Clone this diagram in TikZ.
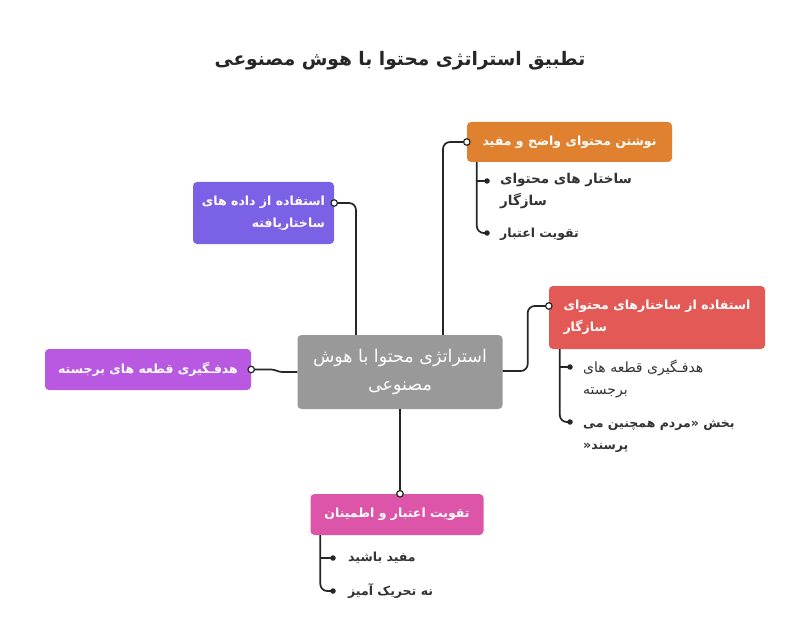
\documentclass[tikz,border=0pt]{standalone}
\usepackage{fontspec}
\TeXXeTstate=1
\newfontfamily\fa[Script=Arabic]{DejaVu Sans}
\newcommand{\rl}[1]{\beginR #1\endR}
\definecolor{corange}{HTML}{E0812F}
\definecolor{cpurple}{HTML}{7B61E6}
\definecolor{cgray}{HTML}{999999}
\definecolor{cred}{HTML}{E25955}
\definecolor{cmag}{HTML}{B959E2}
\definecolor{cpink}{HTML}{DC55A8}
\definecolor{ctext}{HTML}{333333}
\tikzset{
  x=1pt, y=-1pt,
  box/.style={rectangle, rounded corners=4pt, inner sep=0pt, text=white,
    font=\fa\bfseries\fontsize{12.5}{22}\selectfont},
  child/.style={inner sep=0pt, text=ctext, font=\fa\fontsize{14}{22}\selectfont},
  childb/.style={child, font=\fa\bfseries\fontsize{12.5}{22}\selectfont},
  link/.style={draw=black!85, line width=1.7pt, rounded corners=7pt},
  opendot/.style={circle, draw=black!85, fill=white, line width=1.2pt, inner sep=0pt, minimum size=6.5pt},
  bullet/.style={circle, fill=black!85, inner sep=0pt, minimum size=5.5pt},
}
\begin{document}
\begin{tikzpicture}
\useasboundingbox (0,0) rectangle (800,631);
\fill[white] (0,0) rectangle (800,631);
% title
\node[font=\fa\bfseries\fontsize{18.6}{24}\selectfont, text=black!85] (title) at (400,61) {\rl{تطبیق استراتژی محتوا با هوش مصنوعی}};
% boxes
\node[box, fill=cgray, minimum width=205pt, minimum height=74pt, align=center,
  font=\fa\fontsize{17.5}{28}\selectfont] (center) at (400,372) {\rl{استراتژی محتوا با هوش}\\\rl{مصنوعی}};
\node[box, fill=corange, minimum width=205pt, minimum height=40pt, align=left] (orange) at (569.5,142) {\rl{نوشتن محتوای واضح و مفید}};
\node[box, fill=cpurple, minimum width=141pt, minimum height=62pt, align=right] (purple) at (263.5,213) {\rl{استفاده از داده های}\\\rl{ساختاریافته}};
\node[box, fill=cred, minimum width=216pt, minimum height=63pt, align=left] (red) at (657,317.5) {\rl{استفاده از ساختارهای محتوای}\\\rl{سازگار}};
\node[box, fill=cmag, minimum width=206pt, minimum height=41pt, align=center] (left) at (148,369.5) {\rl{هدفـگیری قطعه های برجسته}};
\node[box, fill=cpink, minimum width=173pt, minimum height=41pt, align=center] (pink) at (397,514.5) {\rl{تقویت اعتبار و اطمینان}};
% connector anchors
\coordinate (oc) at (orange.west);
\coordinate (pc) at ([yshift=10pt]purple.east);
\coordinate (rc) at ([yshift=11.5pt]red.west);
\coordinate (lc) at (left.east);
\coordinate (kc) at ([xshift=3pt]pink.north);
% connectors
\draw[link] (oc) -| ([xshift=43pt]center.north);
\draw[link] (pc) -| ([xshift=-44pt]center.north);
\draw[link] ([yshift=1pt]center.east) -- ++(25,0) |- (rc);
\draw[link, rounded corners=3pt] (lc) -- ++(23,0) -- ++(5,2.5) -- (center.west);
\draw[link] (center.south) -- (kc);
\foreach \c in {oc,pc,rc,lc,kc} \node[opendot] at (\c) {};
% orange children
\coordinate (ob1) at (487,181);
\coordinate (ob2) at (487,233);
\draw[link] ([xshift=10pt]orange.south west) |- (ob2);
\draw[link] (ob1 -| orange.south west) ++(10,0) -- (ob1);
\node[bullet] at (ob1) {};
\node[bullet] at (ob2) {};
\node[childb, anchor=north west, align=left, font=\fa\bfseries\fontsize{13.5}{22}\selectfont] (o1) at (500,173) {\rl{ساختار های محتوای}\\\rl{سازگار}};
\node[childb, anchor=west] (o2) at (500,234) {\rl{تقویت اعتبار}};
% red children
\coordinate (rb1) at (570,367);
\coordinate (rb2) at (570,422);
\draw[link] ([xshift=11pt]red.south west) |- (rb2);
\draw[link] (rb1 -| red.south west) ++(11,0) -- (rb1);
\node[bullet] at (rb1) {};
\node[bullet] at (rb2) {};
\node[child, anchor=north west, align=left] (r1) at (583,360) {\rl{هدفـگیری قطعه های}\\\rl{برجسته}};
\node[childb, anchor=north west, align=left] (r2) at (583,420) {\rl{بخش «مردم همچنین می}\\\rl{پرسند\kern0pt«}};
% pink children
\coordinate (kb1) at (333,558);
\coordinate (kb2) at (333,591);
\draw[link] ([xshift=10pt]pink.south west) |- (kb2);
\draw[link] (kb1 -| pink.south west) ++(10,0) -- (kb1);
\node[bullet] at (kb1) {};
\node[bullet] at (kb2) {};
\node[childb, anchor=west] (k1) at (348,558) {\rl{مفید باشید}};
\node[childb, anchor=west] (k2) at (348,591) {\rl{نه تحریک آمیز}};
\end{tikzpicture}
\end{document}
